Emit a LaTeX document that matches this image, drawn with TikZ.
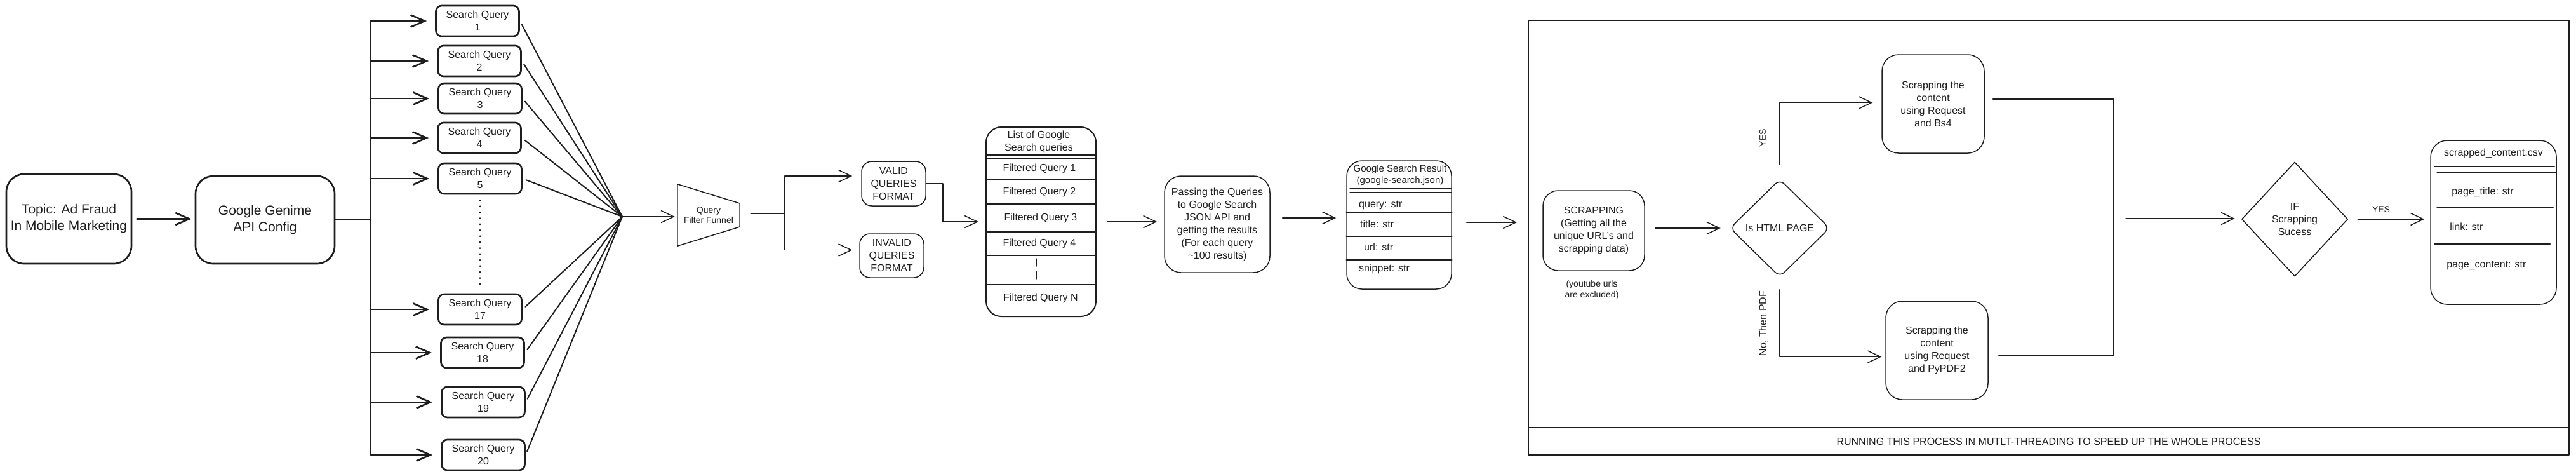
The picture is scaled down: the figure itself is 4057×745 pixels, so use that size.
\documentclass[tikz,border=0pt]{standalone}
\usepackage{fontspec}
\setmainfont{Liberation Sans}
\usetikzlibrary{arrows.meta, shapes.geometric, calc}
\definecolor{ink}{RGB}{30,30,30}
\begin{document}
\begin{tikzpicture}[x=1pt, y=-1pt, line cap=round, line join=round,
  txt/.style={font=\fontsize{16}{20}\selectfont, text=ink, align=center, inner sep=0pt},
  lnheavy/.style={draw=ink, line width=2.7pt},
  lnmed/.style={draw=ink, line width=2pt},
  lnthin/.style={draw=ink, line width=1.5pt},
  rbox/.style={txt, lnthin, rounded corners=22pt},
  sqbox/.style={txt, lnheavy, rounded corners=9pt, minimum width=131pt, minimum height=48pt},
  arr/.style={lnthin, -{Straight Barb[length=20pt,width=19pt]}},
  harr/.style={lnheavy, -{Straight Barb[length=22pt,width=19pt]}}
]
\useasboundingbox (0,0) rectangle (4057,745);

% ---------- left part ----------
\node[rbox, lnheavy, minimum width=197pt, minimum height=141pt, rounded corners=28pt,
      font=\fontsize{21}{26}\selectfont] (topic) at (108.5,344.5) {Topic: Ad Fraud\\In Mobile Marketing};
\node[rbox, lnheavy, minimum width=219pt, minimum height=138pt, rounded corners=28pt,
      font=\fontsize{21}{26}\selectfont] (google) at (417.5,346) {Google Genime\\API Config};
\draw[harr, shorten <=7pt, shorten >=5pt] (topic.east) -- (topic.east -| google.west);

\node[sqbox] (sq1)  at (752,33)  {Search Query\\1};
\node[sqbox] (sq2)  at (755,96)  {Search Query\\2};
\node[sqbox] (sq3)  at (756,155) {Search Query\\3};
\node[sqbox] (sq4)  at (755,217) {Search Query\\4};
\node[sqbox] (sq5)  at (756,281) {Search Query\\5};
\node[sqbox] (sq17) at (756,487) {Search Query\\17};
\node[sqbox] (sq18) at (760,555) {Search Query\\18};
\node[sqbox] (sq19) at (761,633) {Search Query\\19};
\node[sqbox] (sq20) at (761,716) {Search Query\\20};
\draw[draw=ink, line width=3pt, line cap=round, dash pattern=on 0pt off 9.4pt, shorten <=9pt, shorten >=12pt]
  (sq5.south) -- (sq17.north -| sq5.south);

\coordinate (trunk) at (584,346);
\draw[lnheavy] (google.east) -- (google.east -| trunk);
\draw[lnheavy] (sq1.west -| trunk) -- (sq20.west -| trunk);
\foreach \q in {sq1,sq2,sq3,sq4,sq5,sq17,sq18,sq19,sq20}{
  \draw[harr, shorten >=13pt] (\q.west -| trunk) -- (\q.west);
}
\coordinate (conv) at (980,341);
\foreach \q in {sq1,sq2,sq3,sq4,sq5,sq17,sq18,sq19,sq20}{
  \draw[lnmed, shorten <=6pt] (\q.east) -- (conv);
}

% ---------- funnel ----------
\node[txt, font=\fontsize{14}{16}\selectfont, minimum width=98pt, minimum height=97pt] (funnel) at (1116,338.5) {Query\\Filter Funnel};
\draw[lnthin] (funnel.north west) -- ([yshift=18.5pt]funnel.east) -- ([yshift=-18.5pt]funnel.east) -- (funnel.south west) -- cycle;
\draw[arr, shorten >=4pt] (conv) -- (conv -| funnel.west);

\node[rbox, minimum width=101pt, minimum height=70pt, rounded corners=16pt] (valid) at (1407.5,289) {VALID\\QUERIES\\FORMAT};
\node[rbox, minimum width=101pt, minimum height=69pt, rounded corners=16pt] (invalid) at (1404.5,402.5) {INVALID\\QUERIES\\FORMAT};
\coordinate (fork) at (1236,336);
\draw[lnthin, shorten <=17pt] (funnel.east |- fork) -- (fork);
\draw[arr, shorten >=14pt] (fork) |- ([yshift=12pt]valid.west);
\draw[arr, shorten >=11pt] (fork) |- ([yshift=9pt]invalid.west);

% ---------- list ----------
\node[lnmed, rounded corners=24pt, minimum width=173pt, minimum height=298pt, inner sep=0pt] (list) at (1639.5,349) {};
\coordinate (vb) at (1485,287);
\draw[arr, shorten >=11pt] (valid.east) -- (valid.east -| vb) |- (list.west);
\node[txt] (lh) at (1636,223) {List of Google\\Search queries};
\foreach \yy in {244,249,283,321,365,402,448}{
  \draw[lnmed] (list.west |- 0,\yy) -- (list.east |- 0,\yy);
}
\node[txt] (l1) at (1637,265) {Filtered Query 1};
\node[txt] (l2) at (1637,302) {Filtered Query 2};
\node[txt] (l3) at (1639,343) {Filtered Query 3};
\node[txt] (l4) at (1637,383) {Filtered Query 4};
\coordinate (dt) at (1632,407);
\coordinate (db) at (1632,440);
\draw[lnthin, dash pattern=on 12pt off 8pt] (dt) -- (db);
\node[txt] (ln) at (1639,469) {Filtered Query N};

% ---------- passing ----------
\node[rbox, minimum width=166pt, minimum height=152pt, rounded corners=26pt] (pass) at (1917,353)
  {Passing the Queries\\to Google Search\\JSON API and\\getting the results\\(For each query\\\textasciitilde100 results)};
\draw[arr, shorten <=17pt, shorten >=11pt] (list.east) -- (list.east -| pass.west);

% ---------- google search result ----------
\node[lnthin, rounded corners=24pt, minimum width=165pt, minimum height=202pt, inner sep=0pt] (gsr) at (2203.5,354) {};
\draw[arr, shorten <=19pt, shorten >=16pt] (pass.east |- 0,343) -- (gsr.west |- 0,343);
\node[txt, font=\fontsize{15}{18}\selectfont] (gh) at (2205,276) {Google Search Result\\(google-search.json)};
\draw[lnthin] (2126,297) -- (2286,297);
\draw[lnthin] (2126,303) -- (2286,303);
\foreach \yy in {334,372,409}{
  \draw[lnthin] (gsr.west |- 0,\yy) -- (gsr.east |- 0,\yy);
}
\node[txt, anchor=west] (g1) at (2140,323) {query: str};
\node[txt, anchor=west] (g2) at (2142,353) {title: str};
\node[txt, anchor=west] (g3) at (2148,389) {url: str};
\node[txt, anchor=west] (g4) at (2140,423) {snippet: str};

% ---------- frame ----------
\node[lnmed, minimum width=1639pt, minimum height=641pt, inner sep=0pt] (frame) at (3226.5,352.5) {};
\node[txt, lnmed, minimum width=1639pt, minimum height=43pt] (band) at (3226.5,694.5)
  {RUNNING THIS PROCESS IN MUTLT-THREADING TO SPEED UP THE WHOLE PROCESS};
\draw[arr, shorten <=23pt, shorten >=17pt] (gsr.east |- 0,350) -- (frame.west |- 0,350);

% ---------- scrapping ----------
\node[rbox, minimum width=160pt, minimum height=126pt, rounded corners=24pt] (scrap) at (2510,363)
  {SCRAPPING\\(Getting all the\\unique URL's and\\scrapping data)};
\node[txt, font=\fontsize{14}{17}\selectfont] (note) at (2507,456) {(youtube urls\\are excluded)};

\node[txt, lnthin, diamond, rounded corners=10pt, minimum width=157pt, minimum height=154pt] (html) at (2803,359) {Is HTML PAGE};
\draw[arr, shorten <=16pt, shorten >=14pt] (html.west -| scrap.east) -- (html.west);

\node[rbox, minimum width=161pt, minimum height=155pt, rounded corners=26pt] (bs4) at (3044.5,163.5)
  {Scrapping the\\content\\using Request\\and Bs4};
\node[rbox, minimum width=161pt, minimum height=155pt, rounded corners=26pt] (pdf) at (3050.5,551.5)
  {Scrapping the\\content\\using Request\\and PyPDF2};

\draw[arr, shorten <=22pt, shorten >=14pt] (html.north) |- ([yshift=2pt]bs4.west);
\node[txt, font=\fontsize{14}{17}\selectfont, rotate=90] (yes1) at (2776,217) {YES};
\draw[arr, shorten <=19pt, shorten >=6pt] (html.south) |- ([yshift=-10pt]pdf.west);
\node[txt, rotate=90] (no1) at (2777,509) {No, Then PDF};

\coordinate (mt) at (3329,156);
\coordinate (mb) at (3329,559);
\coordinate (mm) at (3329,344);
\draw[lnthin] ([xshift=13pt,yshift=7.5pt]bs4.east) -- (mt) -- (mb) -- ([xshift=16pt,yshift=-7.5pt]pdf.east);

\node[txt, lnthin, diamond, minimum width=167pt, minimum height=180pt] (ifd) at (3614,345) {IF\\Scrapping\\Sucess};
\draw[arr, shorten <=19pt, shorten >=10pt] (mm) -- (mm -| ifd.west);

% ---------- csv ----------
\node[lnthin, rounded corners=26pt, minimum width=198pt, minimum height=258pt, inner sep=0pt] (csv) at (3927,350) {};
\draw[arr, shorten <=15pt, shorten >=9pt] (ifd.east) -- (ifd.east -| csv.west);
\node[txt, font=\fontsize{14}{17}\selectfont] (yes2) at (3750,330) {YES};
\node[txt] (ch) at (3927,241) {scrapped\_content.csv};
\draw[lnmed] (3834,262) -- (4023,262);
\draw[lnthin] (3838,271) -- (4026,271);
\draw[lnmed] (3838,327) -- (4021,327);
\draw[lnmed] (3834,384) -- (4016,384);
\node[txt, anchor=west] (c1) at (3861,302) {page\_title: str};
\node[txt, anchor=west] (c2) at (3858,357) {link: str};
\node[txt, anchor=west] (c3) at (3853,418) {page\_content: str};
\end{tikzpicture}
\end{document}
